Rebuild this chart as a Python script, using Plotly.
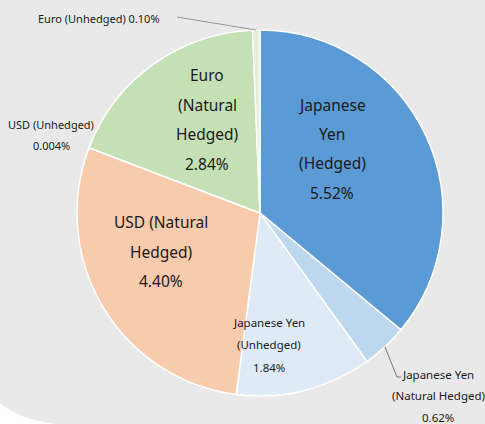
import math
import plotly.graph_objects as go

# ---- data ----
labels = ["Japanese Yen (Hedged)", "Japanese Yen (Natural Hedged)", "Japanese Yen (Unhedged)",
          "USD (Natural Hedged)", "USD (Unhedged)", "Euro (Natural Hedged)", "Euro (Unhedged)"]
values = [5.52, 0.62, 1.84, 4.40, 0.004, 2.84, 0.10]
value_text = ["5.52%", "0.62%", "1.84%", "4.40%", "0.004%", "2.84%", "0.10%"]
label_lines = [
    ["Japanese", "Yen", "(Hedged)"],
    ["Japanese Yen", "(Natural Hedged)"],
    ["Japanese Yen", "(Unhedged)"],
    ["USD (Natural", "Hedged)"],
    ["USD (Unhedged)"],
    ["Euro", "(Natural", "Hedged)"],
    ["Euro (Unhedged)"],
]
colors = ["#5B9BD5", "#BDD7EE", "#DEEBF7", "#F8CBAD", "#FBE5D6", "#C5E0B4", "#E2F0D9"]

# ---- layout (pixels) ----
W, H = 485, 424
CX, CY, R = 260, 213, 183
FONT = "Noto Sans"

def px(x, y):
    return x / W, 1 - y / H

# label placement: (center x, first line y, line step, font size, inline value)
label_pos = [
    (332, 105, 29.2, 15.5, False),
    (438, 374, 21.5, 11.5, False),
    (269, 322, 22.5, 11.5, False),
    (161, 222, 29.5, 15.5, False),
    (51, 124, 21, 11, False),
    (207, 75, 29.5, 15.5, False),
    (99, 18, 0, 11, True),
]

fig = go.Figure()
fig.add_trace(go.Pie(
    labels=labels, values=values, sort=False, direction="clockwise", rotation=0,
    marker=dict(colors=colors, line=dict(color="white", width=1.5)),
    textinfo="none", hoverinfo="skip", showlegend=False,
    domain=dict(x=[(CX - R) / W, (CX + R) / W], y=[(H - CY - R) / H, (H - CY + R) / H]),
))

annotations = []
for i, (lines, val) in enumerate(zip(label_lines, value_text)):
    x0, y0, step, fs, inline = label_pos[i]
    if inline:
        lines = [lines[-1] + " " + val]
    else:
        lines = lines + [val]
    for k, t in enumerate(lines):
        ax, ay = px(x0, y0 + k * step)
        annotations.append(dict(x=ax, y=ay, xref="paper", yref="paper", text=t, showarrow=False,
                                xanchor="center", yanchor="middle",
                                font=dict(family=FONT, size=fs, color="#1a1a1a")))

total = sum(values)

def edge_point(i):
    before = sum(values[:i])
    ang = math.radians((before + values[i] / 2) / total * 360)
    return CX + R * math.sin(ang), CY - R * math.cos(ang)

shapes = []
# background with rounded bottom-left corner
p = lambda x, y: "%.5f,%.5f" % px(x, y)
path = "M %s L %s L %s L %s Q %s %s Z" % (p(0, 0), p(W, 0), p(W, H), p(55, H), p(18, 419), p(0, 403))
shapes.append(dict(type="path", path=path, xref="paper", yref="paper", fillcolor="#E9E9E9",
                   line=dict(width=0), layer="below"))

# leader lines
ex, ey = edge_point(6)
x1, y1 = px(ex, ey)
x2, y2 = px(177, 17)
shapes.append(dict(type="line", xref="paper", yref="paper", x0=x2, y0=y2, x1=x1, y1=y1,
                   line=dict(color="#7f7f7f", width=0.8)))
ex, ey = edge_point(1)
pts = [px(ex, ey), px(397, 377), px(401, 377)]
for a, b in zip(pts[:-1], pts[1:]):
    shapes.append(dict(type="line", xref="paper", yref="paper", x0=a[0], y0=a[1], x1=b[0], y1=b[1],
                       line=dict(color="#595959", width=0.8)))

fig.update_layout(width=W, height=H, margin=dict(l=0, r=0, t=0, b=0),
                  paper_bgcolor="white", plot_bgcolor="white",
                  annotations=annotations, shapes=shapes)
fig.write_html("out.html", config={"displayModeBar": False},
               post_script="document.body.style.margin='0';document.body.style.overflow='hidden';")
